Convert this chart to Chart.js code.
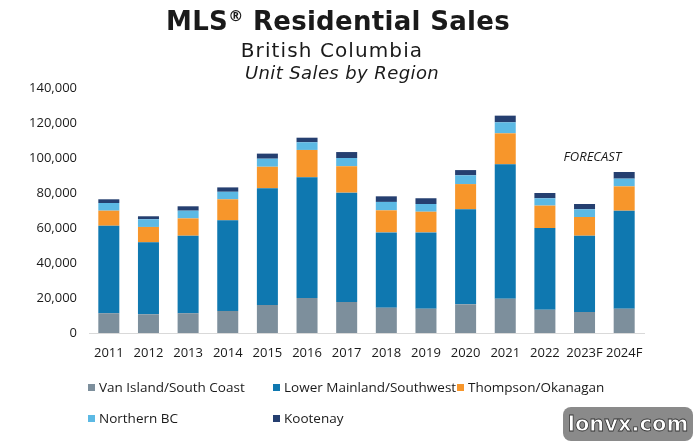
<!DOCTYPE html>
<html>
<head>
<meta charset="utf-8">
<script src="https://cdn.jsdelivr.net/npm/chart.js@4"></script>
<style>
  html, body { margin: 0; padding: 0; background: #fff; }
  #wrap { position: relative; width: 696px; height: 443px; overflow: hidden; font-family: 'Open Sans', sans-serif; color: #1a1a1a; }
  #chart { position: absolute; left: 0; top: 0; }
  .title { position: absolute; left: 0; width: 676px; text-align: center; white-space: nowrap; font-family: 'DejaVu Sans', sans-serif; }
  #t1 { top: 6px; font-size: 26px; font-weight: 700; line-height: 30px; left: 0; letter-spacing: 0.3px; }
  #t1 sup { font-size: 58%; vertical-align: 0.62em; line-height: 0; }
  #t2 { top: 38px; font-size: 20px; line-height: 24px; left: -6px; letter-spacing: 1.1px; }
  #t3 { top: 62px; font-size: 18px; font-style: italic; line-height: 22px; left: 4px; letter-spacing: 0.4px; }
  #legend { position: absolute; left: 88px; top: 377px; width: 600px; font-size: 13.5px; }
  .item { position: absolute; white-space: nowrap; line-height: 20px; }
  .box { display: inline-block; width: 7px; height: 7px; margin-right: 4px; vertical-align: 1px; }
  #wm { position: absolute; left: 563px; top: 407px; width: 130px; height: 34px; background: #8a8a8a; border-radius: 8px;
        color: #fff; font-family: 'DejaVu Sans', sans-serif; font-weight: 700; font-size: 21px; line-height: 34px; text-align: center;
        -webkit-text-stroke: 0.8px #333; }
</style>
</head>
<body>
<div id="wrap">
  <canvas id="chart" width="696" height="443"></canvas>
  <div class="title" id="t1">MLS<sup>®</sup> Residential Sales</div>
  <div class="title" id="t2">British Columbia</div>
  <div class="title" id="t3">Unit Sales by Region</div>
  <div id="legend"></div>
  <div id="wm">lonvx.com</div>
</div>
<script>
const years = ['2011', '2012', '2013', '2014', '2015', '2016', '2017', '2018', '2019', '2020', '2021', '2022', '2023F', '2024F'];
const vanIsland = [11300, 10700, 11300, 12600, 16000, 20000, 17700, 14500, 13900, 16400, 19600, 13300, 12000, 13900];
const lowerMainland = [50000, 41100, 44300, 51800, 66700, 69000, 62500, 43000, 43600, 54300, 76800, 46700, 43600, 56000];
const thompson = [8600, 8800, 9900, 12000, 12300, 15600, 15100, 12600, 11800, 14400, 17700, 12800, 10700, 13900];
const northern = [4400, 4400, 4400, 4300, 4600, 4400, 4700, 4800, 4400, 5000, 6300, 4200, 4400, 4400];
const kootenay = [2100, 1700, 2500, 2500, 2900, 2600, 3400, 3200, 3300, 3000, 3800, 3000, 3000, 3800];
const yTicks = [0, 20000, 40000, 60000, 80000, 100000, 120000, 140000];

const series = [
  { label: 'Van Island/South Coast', data: vanIsland, color: '#7d8f9c' },
  { label: 'Lower Mainland/Southwest', data: lowerMainland, color: '#0f78b0' },
  { label: 'Thompson/Okanagan', data: thompson, color: '#f7962b' },
  { label: 'Northern BC', data: northern, color: '#5cb9e4' },
  { label: 'Kootenay', data: kootenay, color: '#253f70' },
];

// legend slots (col x, row y) in the order of the series
const legendSlots = [[0, 0], [185, 0], [369, 0], [0, 31], [185, 31]];

const forecastText = {
  id: 'forecastText',
  afterDatasetsDraw(chart) {
    const { ctx, scales } = chart;
    const x = scales.x.getPixelForValue(12.2);
    const y = scales.y.getPixelForValue(100500);
    ctx.save();
    ctx.font = 'italic 13px "Open Sans"';
    ctx.fillStyle = '#1a1a1a';
    ctx.textAlign = 'center';
    ctx.textBaseline = 'middle';
    ctx.fillText('FORECAST', x, y);
    ctx.restore();
  }
};

const ctx = document.getElementById('chart').getContext('2d');
const chart = new Chart(ctx, {
  type: 'bar',
  data: {
    labels: years,
    datasets: series.map(s => ({
      label: s.label,
      data: s.data,
      backgroundColor: s.color,
      borderWidth: 0,
      barPercentage: 0.53,
      categoryPercentage: 1,
    })),
  },
  options: {
    responsive: false,
    animation: false,
    layout: { padding: { top: 88, right: 52, bottom: 80, left: 0 } },
    plugins: {
      legend: { display: false },
      tooltip: { enabled: false },
      title: { display: false },
    },
    scales: {
      x: {
        stacked: true,
        grid: { display: false, drawTicks: false },
        border: { display: true, color: '#d9d9d9', width: 1 },
        ticks: { color: '#1a1a1a', font: { family: 'Open Sans', size: 13 }, padding: 12, maxRotation: 0, autoSkip: false },
        afterFit: s => { s.height = 30; },
      },
      y: {
        stacked: true,
        min: 0,
        max: 140000,
        grid: { display: false, drawTicks: false },
        border: { display: false },
        afterBuildTicks: s => { s.ticks = yTicks.map(v => ({ value: v })); },
        ticks: {
          color: '#1a1a1a',
          font: { family: 'Open Sans', size: 13 },
          padding: 12,
          callback: v => v.toLocaleString('en-US'),
        },
        afterFit: s => { s.width = 89; },
      },
    },
  },
  plugins: [forecastText],
});

// html legend built from the chart's datasets
const legend = document.getElementById('legend');
chart.data.datasets.forEach((ds, i) => {
  const item = document.createElement('div');
  item.className = 'item';
  item.style.left = legendSlots[i][0] + 'px';
  item.style.top = legendSlots[i][1] + 'px';
  item.innerHTML = '<span class="box" style="background:' + ds.backgroundColor + '"></span>' + ds.label;
  legend.appendChild(item);
});
</script>
</body>
</html>
